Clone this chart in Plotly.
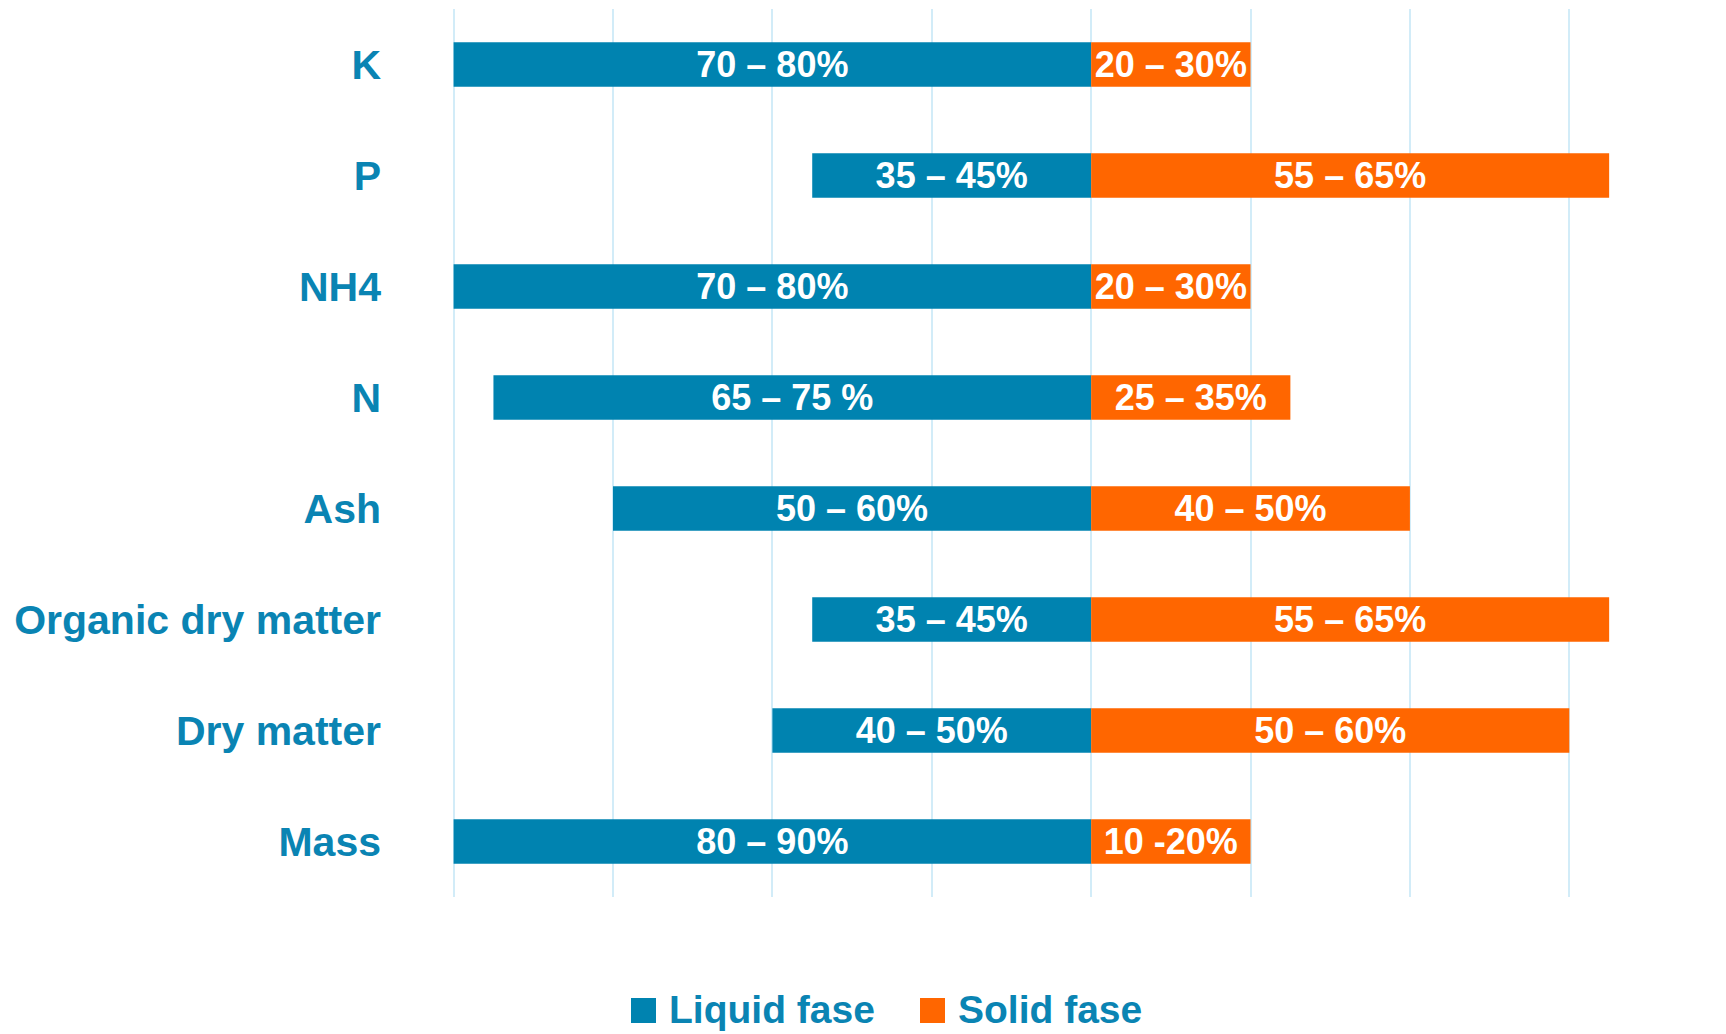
import plotly.graph_objects as go

categories = ["K", "P", "NH4", "N", "Ash", "Organic dry matter", "Dry matter", "Mass"]
liquid_values = [-80, -35, -80, -75, -60, -35, -40, -80]
solid_values = [20, 65, 20, 25, 40, 65, 60, 20]
liquid_labels = ["70 – 80%", "35 – 45%", "70 – 80%", "65 – 75 %", "50 – 60%", "35 – 45%", "40 – 50%", "80 – 90%"]
solid_labels = ["20 – 30%", "55 – 65%", "20 – 30%", "25 – 35%", "40 – 50%", "55 – 65%", "50 – 60%", "10 -20%"]
series_names = ["Liquid fase", "Solid fase"]

TEAL = "#0083B0"
LABEL_TEAL = "#0A84B3"
ORANGE = "#FF6600"
GRID = "#D2ECF8"
FONT = "Liberation Sans, Arial, sans-serif"

W, H = 1726, 1034
OFF = 8  # page body margin
ML, MR, MT, MB = 452 - OFF, 77 + OFF, 9 - OFF, 137 + OFF

fig = go.Figure()
for name, vals, labels, color in [
    (series_names[0], liquid_values, liquid_labels, TEAL),
    (series_names[1], solid_values, solid_labels, ORANGE),
]:
    fig.add_trace(go.Bar(
        y=categories, x=vals, orientation="h", name=name,
        marker=dict(color=color, line=dict(width=0)),
        text=labels, textposition="inside", insidetextanchor="middle",
        textangle=0, constraintext="none",
        textfont=dict(color="white", size=36, family=FONT, weight=700),
        showlegend=False,
    ))

fig.update_layout(
    width=W, height=H,
    margin=dict(l=ML, r=MR, t=MT, b=MB, autoexpand=False),
    paper_bgcolor="white", plot_bgcolor="white",
    barmode="relative", bargap=0.6,
    xaxis=dict(range=[-80.2, 70], dtick=20, tick0=0, showticklabels=False,
               showgrid=True, gridcolor=GRID, gridwidth=1.5, zeroline=False,
               showline=False, automargin=False),
    yaxis=dict(type="category", autorange="reversed", showgrid=False,
               zeroline=False, showline=False, ticks="", automargin=False,
               ticklabelstandoff=70,
               tickfont=dict(color=LABEL_TEAL, size=41, family=FONT, weight=700)),
)

# manual legend (paper coords derived from page pixels)
pw = W - ML - MR
ph = H - MT - MB
def px_x(x):
    return (x - OFF - ML) / pw
def px_y(y):
    return (H - MB - (y - OFF)) / ph

legend_items = [(series_names[0], TEAL, 631), (series_names[1], ORANGE, 920)]
for name, color, sx in legend_items:
    fig.add_shape(type="rect", xref="paper", yref="paper",
                  x0=px_x(sx), x1=px_x(sx + 25), y0=px_y(1023), y1=px_y(998),
                  fillcolor=color, line=dict(width=0))
    fig.add_annotation(xref="paper", yref="paper", x=px_x(sx + 36), y=px_y(1009),
                       xanchor="left", yanchor="middle", showarrow=False,
                       text=name,
                       font=dict(color=LABEL_TEAL, size=39, family=FONT, weight=700))

fig.write_html("out.html")
